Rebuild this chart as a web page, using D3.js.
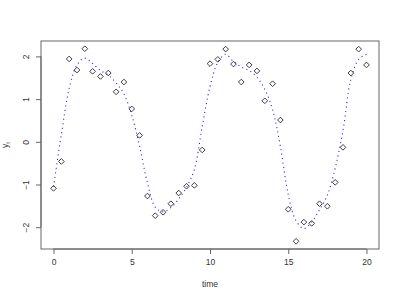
<!DOCTYPE html>
<html><head><meta charset="utf-8">
<script src="https://cdn.jsdelivr.net/npm/d3@7"></script>
<style>html,body{margin:0;padding:0;background:#fff;}svg{display:block;font-family:"Liberation Sans",Arial,Helvetica,sans-serif;}</style>
</head><body>
<svg id="c" width="400" height="300"></svg>
<script>
const times = d3.range(0, 20.001, 0.5);
const obsValues = [-1.09,-0.46,1.94,1.68,2.18,1.65,1.53,1.61,1.17,1.40,0.77,0.15,-1.27,-1.73,-1.65,-1.45,-1.20,-1.04,-1.02,-0.19,1.83,1.93,2.17,1.82,1.40,1.80,1.66,0.96,1.36,0.51,-1.58,-2.33,-1.88,-1.91,-1.45,-1.51,-0.95,-0.13,1.61,2.17,1.80];
const trendValues = [-1.05,0.17,1.25,1.80,1.96,1.83,1.67,1.56,1.38,1.12,0.62,-0.10,-0.96,-1.53,-1.64,-1.54,-1.34,-1.06,-0.65,0.35,1.29,1.86,2.05,1.88,1.75,1.67,1.51,1.23,0.75,-0.11,-1.24,-1.85,-2.03,-1.88,-1.59,-1.25,-0.62,0.27,1.46,1.93,2.05];
const xTicks = [0,5,10,15,20];
const yTicks = [-2,-1,0,1,2];

const svg = d3.select("#c");
const L=41, R=379, T=41, B=249;
const xr = d3.extent(times), xe=(xr[1]-xr[0])*0.04;
const yAll = obsValues.concat(trendValues);
const yr = d3.extent(yAll), ye=(yr[1]-yr[0])*0.04;
const x = d3.scaleLinear().domain([xr[0]-xe, xr[1]+xe]).range([L,R]);
const y = d3.scaleLinear().domain([yr[0]-ye, yr[1]+ye]).range([B,T]);
const axisCol="#666", textCol="#333";

// trend line
const line = d3.line().x((d,i)=>x(times[i])).y(d=>y(d)).curve(d3.curveCatmullRom);
svg.append("path").attr("d", line(trendValues)).attr("fill","none")
  .attr("stroke","#2a2aff").attr("stroke-width",1.1).attr("stroke-dasharray","1.1,3.4");

// points (diamonds)
const dsym = d3.symbol().type(d3.symbolSquare).size(16);
svg.selectAll("path.pt").data(obsValues).join("path").attr("class","pt")
  .attr("d", dsym())
  .attr("transform",(d,i)=>`translate(${x(times[i])},${y(d)}) rotate(45)`)
  .attr("fill","none").attr("stroke","#333").attr("stroke-width",0.9);

// box
svg.append("rect").attr("x",L).attr("y",T).attr("width",R-L).attr("height",B-T)
  .attr("fill","none").attr("stroke",axisCol).attr("stroke-width",1);

// x axis
const xa = svg.append("g").attr("transform",`translate(0,${B})`)
  .call(d3.axisBottom(x).tickValues(xTicks).tickSize(5).tickPadding(5).tickFormat(d3.format("d")));
xa.select(".domain").attr("stroke",axisCol).attr("d",`M${x(xTicks[0])},0H${x(xTicks[xTicks.length-1])}`);
xa.selectAll(".tick line").attr("stroke",axisCol);
xa.selectAll("text").attr("fill",textCol).style("font-size","8.5px").attr("dy","0.71em");

// y axis
const ya = svg.append("g").attr("transform",`translate(${L},0)`)
  .call(d3.axisLeft(y).tickValues(yTicks).tickSize(5).tickFormat(d=>d<0?"\u2212"+(-d):d));
ya.select(".domain").attr("stroke",axisCol).attr("d",`M0,${y(yTicks[0])}V${y(yTicks[yTicks.length-1])}`);
ya.selectAll(".tick line").attr("stroke",axisCol);
ya.selectAll(".tick text").attr("x",null).attr("dy",null)
  .attr("transform","translate(-15,0) rotate(-90)")
  .attr("text-anchor","middle").attr("dominant-baseline","central")
  .attr("fill",textCol).style("font-size","8.5px");

// labels
svg.append("text").attr("x",(L+R)/2).attr("y",287).attr("text-anchor","middle")
  .attr("fill",textCol).style("font-size","8.5px").text("time");
const yl = svg.append("text").attr("transform",`translate(8,${(T+B)/2}) rotate(-90)`)
  .attr("text-anchor","middle").attr("fill",textCol).style("font-size","8.5px");
yl.append("tspan").text("y");
yl.append("tspan").attr("dy","2").style("font-size","6px").text("t");
</script>
</body></html>
